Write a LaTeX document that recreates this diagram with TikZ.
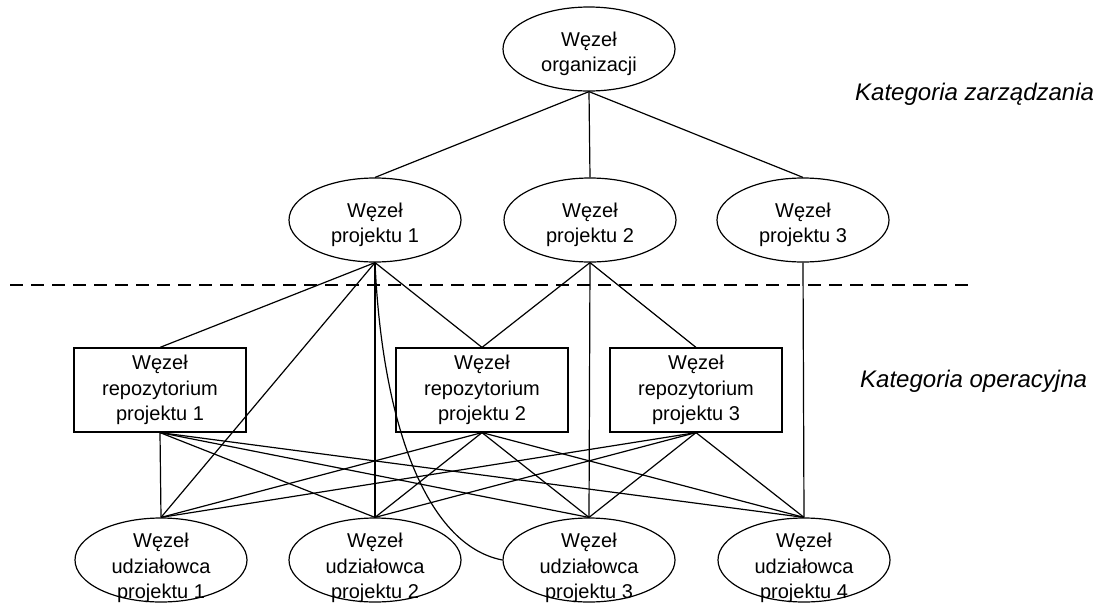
\documentclass[tikz,border=0pt]{standalone}
\usepackage{fontspec}
\setmainfont{Liberation Sans}
\usetikzlibrary{shapes.geometric}
\begin{document}
\begin{tikzpicture}[x=1pt,y=-1pt,
  every node/.style={font=\fontsize{20}{25.5}\selectfont},
  link/.style={line width=1.2pt},
  oval/.style={draw,line width=1.2pt,ellipse,minimum width=172pt,minimum height=84pt,inner sep=0pt},
  ovaltext/.style={align=center,inner sep=0pt},
  repobox/.style={draw,line width=1.2pt,rectangle,minimum width=172pt,minimum height=84pt,inner sep=0pt,align=center},
  catlabel/.style={font=\fontsize{24}{28}\itshape\selectfont,anchor=west,inner sep=0pt}]
\useasboundingbox (0,0) rectangle (1114,603);

% management layer
\node[oval] (org) at (589,49) {};
\node[ovaltext] (orgT) at (589,54) {Węzeł\\organizacji};
\node[oval] (p1) at (375,220) {};
\node[ovaltext] (p1T) at (375,225) {Węzeł\\projektu 1};
\node[oval] (p2) at (590,220) {};
\node[ovaltext] (p2T) at (590,225) {Węzeł\\projektu 2};
\node[oval] (p3) at (803,220) {};
\node[ovaltext] (p3T) at (803,225) {Węzeł\\projektu 3};

% operational layer: repositories
\node[repobox] (r1) at (160,390) {Węzeł\\repozytorium\\projektu 1};
\node[repobox] (r2) at (482,390) {Węzeł\\repozytorium\\projektu 2};
\node[repobox] (r3) at (696,390) {Węzeł\\repozytorium\\projektu 3};

% operational layer: stakeholders
\node[oval] (u1) at (161,560) {};
\node[ovaltext] (u1T) at (161,568) {Węzeł\\udziałowca\\projektu 1};
\node[oval] (u2) at (375,560) {};
\node[ovaltext] (u2T) at (375,568) {Węzeł\\udziałowca\\projektu 2};
\node[oval] (u3) at (589,560) {};
\node[ovaltext] (u3T) at (589,568) {Węzeł\\udziałowca\\projektu 3};
\node[oval] (u4) at (804,560) {};
\node[ovaltext] (u4T) at (804,568) {Węzeł\\udziałowca\\projektu 4};

% layer separator
\coordinate (sepL) at (10,285);
\coordinate (sepR) at (972,285);
\draw[line width=1.2pt,dash pattern=on 13pt off 8pt] (sepL) -- (sepR);

% category labels
\node[catlabel] (catA) at (855,94) {Kategoria zarządzania};
\node[catlabel] (catB) at (860,381) {Kategoria operacyjna};

% organization to projects
\foreach \p in {p1,p2,p3} \draw[link] (org.south) -- (\p.north);

% project 1
\draw[link] (p1.south) -- (r1.north);
\draw[link] (p1.south) -- (r2.north);
\draw[link] (p1.south) -- (u1.north);
\draw[link] (p1.south) -- (u2.north);
\draw[link] (p1.south) .. controls (382,420) and (425,545) .. (u3.west);

% project 2
\draw[link] (p2.south) -- (r2.north);
\draw[link] (p2.south) -- (r3.north);
\draw[link] (p2.south) -- (u3.north);

% project 3
\draw[link] (p3.south) -- (u4.north);

% repositories to stakeholders
\foreach \r in {r1,r2,r3}
  \foreach \u in {u1,u2,u3,u4}
    \draw[link] (\r.south) -- (\u.north);
\end{tikzpicture}
\end{document}
